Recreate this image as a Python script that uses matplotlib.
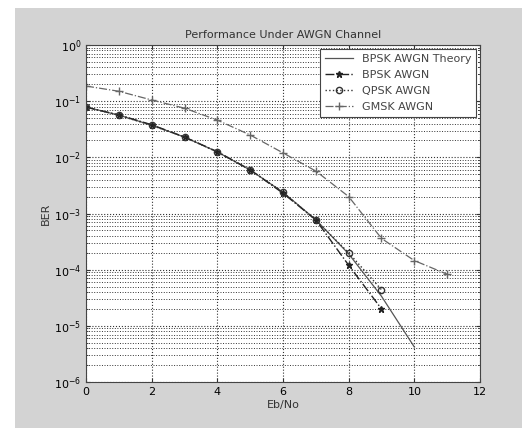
import matplotlib
matplotlib.use("Agg")
import matplotlib.pyplot as plt
from matplotlib.patches import Rectangle
from matplotlib.ticker import LogLocator

# Data
ebno_theory = [0, 1, 2, 3, 4, 5, 6, 7, 8, 9, 10]
ber_theory = [0.0786, 0.0563, 0.0375, 0.0229, 0.0125, 0.00595, 0.00239, 7.73e-4, 1.91e-4, 3.36e-5, 4.2e-6]

ebno_bpsk = [0, 1, 2, 3, 4, 5, 6, 7, 8, 9]
ber_bpsk = [0.078, 0.057, 0.038, 0.023, 0.0126, 0.006, 0.0023, 7.7e-4, 1.2e-4, 2.0e-5]

ebno_qpsk = [0, 1, 2, 3, 4, 5, 6, 7, 8, 9]
ber_qpsk = [0.079, 0.056, 0.037, 0.023, 0.0124, 0.006, 0.0024, 7.6e-4, 2.0e-4, 4.4e-5]

ebno_gmsk = [0, 1, 2, 3, 4, 5, 6, 7, 8, 9, 10, 11]
ber_gmsk = [0.186, 0.15, 0.105, 0.075, 0.046, 0.025, 0.012, 0.0057, 0.002, 3.6e-4, 1.45e-4, 8.3e-5]

labels = ["BPSK AWGN Theory", "BPSK AWGN", "QPSK AWGN", "GMSK AWGN"]
x_ticks = [0, 2, 4, 6, 8, 10, 12]

plt.rcParams['font.family'] = ['DejaVu Sans']

fig = plt.figure(figsize=(5.22, 4.28), dpi=100, facecolor='white')
fig.patches.append(Rectangle((15/522, 0), 1 - 15/522, 1 - 8/428,
                             transform=fig.transFigure, facecolor='#d3d3d3',
                             edgecolor='none', zorder=-10))
ax = fig.add_axes([86/522, 46/428, 394/522, 337/428])
ax.set_facecolor('white')

ax.semilogy(ebno_theory, ber_theory, '-', color='#555555', lw=0.9, label=labels[0])
ax.semilogy(ebno_bpsk, ber_bpsk, '-.', color='#222222', lw=1.0, marker='*',
            ms=5, label=labels[1])
ax.semilogy(ebno_qpsk, ber_qpsk, ':', color='#333333', lw=1.0, marker='o',
            ms=4.5, mfc='none', label=labels[2])
ax.semilogy(ebno_gmsk, ber_gmsk, '-.', color='#666666', lw=0.9, marker='+',
            ms=6, label=labels[3])

ax.set_xlim(0, 12)
ax.set_ylim(1e-6, 1)
ax.set_xticks(x_ticks)
ax.yaxis.set_major_locator(LogLocator(base=10, numticks=10))
ax.yaxis.set_minor_locator(LogLocator(base=10, subs=range(2, 10), numticks=100))
ax.grid(True, which='major', axis='both', linestyle=':', color='#333333', lw=0.8)
ax.grid(True, which='minor', axis='y', linestyle=':', color='#333333', lw=0.7)
ax.tick_params(labelsize=8, direction='in', which='both', top=True, right=True,
               length=3, color='#333333')
ax.tick_params(which='minor', length=1.5)
for s in ax.spines.values():
    s.set_color('#444444')
    s.set_linewidth(0.8)

ax.set_title("Performance Under AWGN Channel", fontsize=8, color='#333333', pad=5)
ax.set_xlabel("Eb/No", fontsize=8, color='#333333', labelpad=2)
ax.set_ylabel("BER", fontsize=8, color='#333333', labelpad=2)

leg = ax.legend(loc='upper right', fontsize=8, frameon=True, fancybox=False,
                edgecolor='#444444', framealpha=1, borderaxespad=0.4,
                handlelength=2.5, labelspacing=0.55)
leg.get_frame().set_linewidth(0.8)
for t in leg.get_texts():
    t.set_color('#444444')

fig.savefig("out.png", dpi=100, facecolor=fig.get_facecolor())
